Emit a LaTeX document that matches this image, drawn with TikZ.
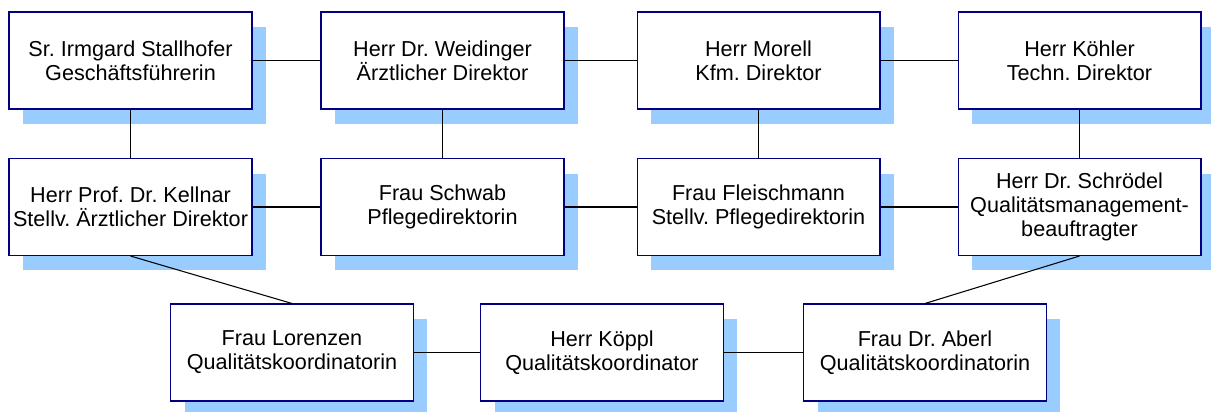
\documentclass[tikz,border=0pt]{standalone}
\usepackage{fontspec}
\setmainfont{Liberation Sans}
\usetikzlibrary{shadows}
\definecolor{shadowblue}{HTML}{99CCFF}
\definecolor{boxnavy}{HTML}{000080}
\frenchspacing

\begin{document}
\begin{tikzpicture}[x=0.02cm, y=-0.02cm,
  pers/.style={draw=boxnavy, fill=white, line width=0.6pt, minimum width=4.86cm, minimum height=1.94cm, inner sep=0pt, align=center, font=\fontsize{12.3}{13.6}\selectfont,
    drop shadow={shadow xshift=0.28cm, shadow yshift=-0.3cm, fill=shadowblue, opacity=1}},
  con/.style={line width=0.6pt}]
\useasboundingbox (0,0) rectangle (1211,412);
% leitung
\node[pers] (stall)   at (130.5,60.5)  {Sr. Irmgard Stallhofer\\Geschäftsführerin};
\node[pers] (weid)    at (442.5,60.5)  {Herr Dr. Weidinger\\Ärztlicher Direktor};
\node[pers] (morell)  at (758.5,60.5)  {Herr Morell\\Kfm. Direktor};
\node[pers] (koehler) at (1079.5,60.5) {Herr Köhler\\Techn. Direktor};
% stellvertreter
\node[pers] (kellnar)   at (130.5,207)  {Herr Prof. Dr. Kellnar\\Stellv. Ärztlicher Direktor};
\node[pers] (schwab)    at (442.5,207)  {Frau Schwab\\Pflegedirektorin};
\node[pers] (fleisch)   at (758.5,207)  {Frau Fleischmann\\Stellv. Pflegedirektorin};
\node[pers] (schroedel) at (1079.5,207) {Herr Dr. Schrödel\\Qualitätsmanagement-\\beauftragter};
% koordinatoren
\node[pers] (lorenz) at (292,352.5) {Frau Lorenzen\\Qualitätskoordinatorin};
\node[pers] (koeppl) at (602,352.5) {Herr Köppl\\Qualitätskoordinator};
\node[pers] (aberl)  at (925,352.5) {Frau Dr. Aberl\\Qualitätskoordinatorin};
% verbindungen
\draw[con] (stall) -- (weid);
\draw[con] (weid) -- (morell);
\draw[con] (morell) -- (koehler);
\draw[con] (kellnar) -- (schwab);
\draw[con] (schwab) -- (fleisch);
\draw[con] (fleisch) -- (schroedel);
\draw[con] (lorenz) -- (koeppl);
\draw[con] (koeppl) -- (aberl);
\foreach \a/\b in {stall/kellnar, weid/schwab, morell/fleisch, koehler/schroedel}
  \draw[con] (\a.south) -- (\b.north);
\draw[con] (kellnar.south) -- (lorenz.north);
\draw[con] (schroedel.south) -- (aberl.north);
\end{tikzpicture}
\end{document}
